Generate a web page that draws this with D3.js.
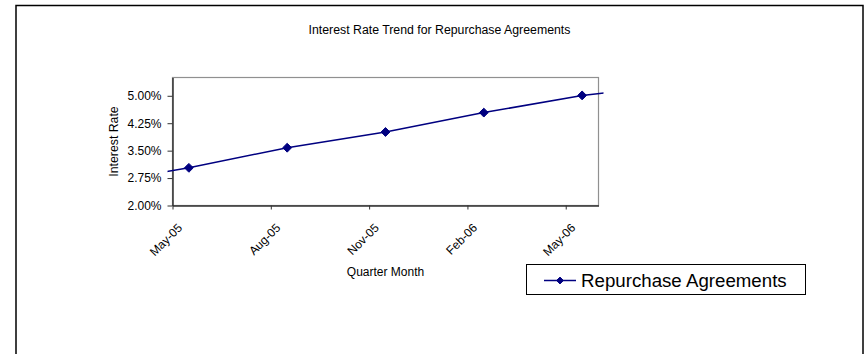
<!DOCTYPE html>
<html>
<head>
<meta charset="utf-8">
<script src="https://cdn.jsdelivr.net/npm/d3@7"></script>
<style>
  html, body { margin: 0; padding: 0; background: #fff; }
  svg { display: block; font-family: Arial, "Liberation Sans", sans-serif; }
</style>
</head>
<body>
<svg id="chart" width="866" height="354"></svg>
<script>
// Quarterly repo rates (percent), plotted mid-month
const quarterLabels = ["May-05", "Aug-05", "Nov-05", "Feb-06", "May-06"];
const quarterMonths = ["2005-05", "2005-08", "2005-11", "2006-02", "2006-05"];
const repoRates = [3.03, 3.58, 4.01, 4.54, 5.01];

// Neighbouring months just outside the axis range (line only, no markers)
const edgeMonths = ["2005-04", "2006-06"];
const edgeRates = [2.88, 5.11];

const yTicks = [2.00, 2.75, 3.50, 4.25, 5.00];
const yDomain = [2.00, 5.50];
const axisStart = "2005-05";
const axisEnd = "2006-06";

const seriesName = "Repurchase Agreements";
const navy = "#000080";

const svg = d3.select("#chart");
const parseMonth = d3.utcParse("%Y-%m");
const monthIndex = s => d3.utcMonth.count(parseMonth(axisStart), parseMonth(s));

// Plot area
const plot = { left: 172.5, right: 598.5, top: 77.5, bottom: 205.5 };

const x = d3.scaleLinear()
  .domain([0, monthIndex(axisEnd)])
  .range([plot.left, plot.right]);
const y = d3.scaleLinear().domain(yDomain).range([plot.bottom, plot.top]);

// Outer chart frame
svg.append("rect")
  .attr("x", 16).attr("y", 5.5).attr("width", 847).attr("height", 420)
  .attr("fill", "#fff").attr("stroke", "#000").attr("stroke-width", 1.5);

// Title
svg.append("text")
  .attr("x", 439.5).attr("y", 34)
  .attr("text-anchor", "middle")
  .attr("font-size", 12.3)
  .attr("fill", "#000")
  .text("Interest Rate Trend for Repurchase Agreements");

// Plot area border
svg.append("rect")
  .attr("x", plot.left).attr("y", plot.top)
  .attr("width", plot.right - plot.left).attr("height", plot.bottom - plot.top)
  .attr("fill", "#fff").attr("stroke", "#909090").attr("stroke-width", 1.2);

// Y axis
const yAxis = svg.append("g")
  .attr("transform", `translate(${plot.left},0)`)
  .call(d3.axisLeft(y).tickValues(yTicks).tickFormat(d => d.toFixed(2) + "%")
    .tickSize(5).tickSizeOuter(0));
yAxis.select(".domain").attr("stroke", "#333").attr("stroke-width", 1.5);
yAxis.selectAll(".tick line").attr("stroke", "#333");
yAxis.selectAll(".tick text")
  .attr("font-size", 12).attr("fill", "#000")
  .attr("font-family", "Arial, 'Liberation Sans', sans-serif")
  .attr("x", -11);

// X axis
const xTickIdx = quarterMonths.map(monthIndex);
const xAxis = svg.append("g")
  .attr("transform", `translate(0,${plot.bottom})`)
  .call(d3.axisBottom(x).tickValues(xTickIdx)
    .tickFormat((d, i) => quarterLabels[i]).tickSize(4).tickSizeOuter(0));
xAxis.select(".domain").attr("stroke", "#333").attr("stroke-width", 1.5);
xAxis.selectAll(".tick line").attr("stroke", "#333");
xAxis.selectAll(".tick text")
  .attr("font-size", 12).attr("fill", "#000")
  .attr("font-family", "Arial, 'Liberation Sans', sans-serif")
  .attr("text-anchor", "end")
  .attr("dy", 0).attr("y", 0)
  .attr("transform", "translate(10,23) rotate(-45)");

// Axis titles
svg.append("text")
  .attr("transform", `translate(118,${(plot.top + plot.bottom) / 2}) rotate(-90)`)
  .attr("text-anchor", "middle")
  .attr("font-size", 12.3).attr("fill", "#000")
  .text("Interest Rate");
svg.append("text")
  .attr("x", (plot.left + plot.right) / 2).attr("y", 276)
  .attr("text-anchor", "middle")
  .attr("font-size", 12).attr("fill", "#000")
  .text("Quarter Month");

// Series line (slightly overruns the plot area toward neighbouring months)
svg.append("clipPath").attr("id", "lineClip")
  .append("rect")
  .attr("x", plot.left - 5).attr("y", 0)
  .attr("width", plot.right - plot.left + 10).attr("height", 354);

const points = quarterMonths.map((m, i) => ({ idx: monthIndex(m) + 0.5, v: repoRates[i] }));
const edgePts = edgeMonths.map((m, i) => ({ idx: monthIndex(m) + 0.5, v: edgeRates[i] }));
const linePts = [edgePts[0], ...points, edgePts[1]];

svg.append("path")
  .datum(linePts)
  .attr("clip-path", "url(#lineClip)")
  .attr("fill", "none").attr("stroke", navy).attr("stroke-width", 1.5)
  .attr("d", d3.line().x(d => x(d.idx)).y(d => y(d.v)));

// Diamond markers
const diamond = d3.symbol().type(d3.symbolDiamond2).size(50);
svg.append("g").selectAll("path")
  .data(points).join("path")
  .attr("transform", d => `translate(${x(d.idx)},${y(d.v)}) rotate(0)`)
  .attr("d", diamond)
  .attr("fill", navy).attr("stroke", navy).attr("stroke-width", 1);

// Legend
const legend = svg.append("g");
legend.append("rect")
  .attr("x", 526.5).attr("y", 264.5).attr("width", 279).attr("height", 30)
  .attr("fill", "#fff").attr("stroke", "#000").attr("stroke-width", 1);
legend.append("line")
  .attr("x1", 544).attr("x2", 576).attr("y1", 280.5).attr("y2", 280.5)
  .attr("stroke", navy).attr("stroke-width", 1.5);
legend.append("path")
  .attr("transform", "translate(560,280.5)")
  .attr("d", d3.symbol().type(d3.symbolDiamond2).size(30))
  .attr("fill", navy).attr("stroke", navy);
legend.append("text")
  .attr("x", 581).attr("y", 287)
  .attr("font-size", 18.7).attr("fill", "#000")
  .text(seriesName);
</script>
</body>
</html>
